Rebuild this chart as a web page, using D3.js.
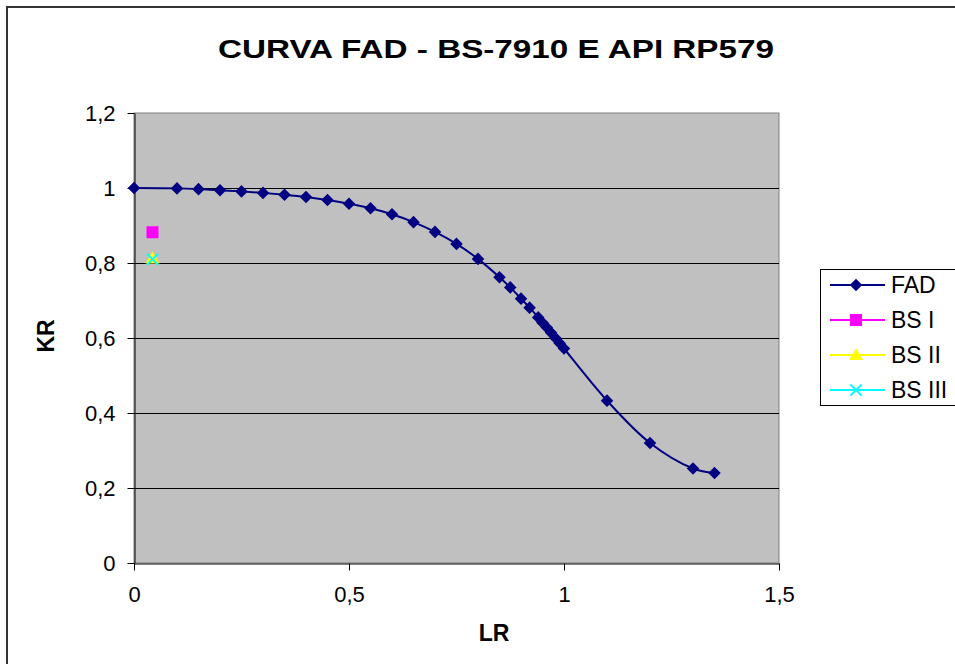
<!DOCTYPE html>
<html>
<head>
<meta charset="utf-8">
<script src="https://cdn.jsdelivr.net/npm/d3@7"></script>
<style>
  body { margin: 0; background: #fff; }
  text { font-family: "Liberation Sans", Arial, sans-serif; }
</style>
</head>
<body>
<svg width="955" height="664"></svg>
<script>
// FAD curve (LR, KR)
var fadLr = [0, 0.1, 0.15, 0.2, 0.25, 0.3, 0.35, 0.4, 0.45, 0.5, 0.55, 0.6, 0.65, 0.7, 0.75,
  0.8, 0.85, 0.875, 0.9, 0.92, 0.94, 0.95, 0.96, 0.97, 0.98, 0.99, 1.0, 1.1, 1.2, 1.3, 1.35];
var fadKr = [1, 0.999, 0.997, 0.994, 0.991, 0.987, 0.982, 0.976, 0.968, 0.958, 0.946, 0.93, 0.909, 0.883, 0.851,
  0.811, 0.762, 0.735, 0.705, 0.681, 0.655, 0.641, 0.628, 0.614, 0.6, 0.586, 0.572, 0.433, 0.32, 0.252, 0.24];

// single assessment points
var bsNames = ["BS I", "BS II", "BS III"];
var bsLr = [0.043, 0.043, 0.043];
var bsKr = [0.882, 0.812, 0.81];

var xTicks = [0, 0.5, 1, 1.5];
var yTicks = [0, 0.2, 0.4, 0.6, 0.8, 1, 1.2];
var legendNames = ["FAD", "BS I", "BS II", "BS III"];

var svg = d3.select("svg");
var fmt = function(v) { return String(v).replace(".", ","); };

// outer chart border
svg.append("rect").attr("x", 7).attr("y", 7).attr("width", 970).attr("height", 680)
  .attr("fill", "none").attr("stroke", "#333").attr("stroke-width", 2);

var x = d3.scaleLinear().domain([0, 1.5]).range([134, 779]);
var y = d3.scaleLinear().domain([0, 1.2]).range([563, 113]);

// plot area
svg.append("rect").attr("x", 134).attr("y", 113).attr("width", 645).attr("height", 450)
  .attr("fill", "#c0c0c0").attr("stroke", "#808080").attr("stroke-width", 1);

// gridlines
svg.append("g").selectAll("line").data(yTicks.filter(function(d) { return d > 0 && d < 1.2; }))
  .enter().append("line")
  .attr("x1", 134).attr("x2", 779)
  .attr("y1", function(d) { return Math.round(y(d)) + 0.5; })
  .attr("y2", function(d) { return Math.round(y(d)) + 0.5; })
  .attr("stroke", "#000").attr("stroke-width", 1);

// axes
var yAxis = svg.append("g").attr("transform", "translate(134.5,0)")
  .call(d3.axisLeft(y).tickValues(yTicks).tickFormat(fmt).tickSizeInner(7).tickSizeOuter(0).tickPadding(12));
var xAxis = svg.append("g").attr("transform", "translate(0,563.5)")
  .call(d3.axisBottom(x).tickValues(xTicks).tickFormat(fmt).tickSizeInner(7).tickSizeOuter(0).tickPadding(16));
[yAxis, xAxis].forEach(function(a) {
  a.select(".domain").attr("stroke", "#000");
  a.selectAll(".tick line").attr("stroke", "#000");
  a.selectAll("text").attr("font-size", 22).attr("fill", "#000")
    .style("font-family", "'Liberation Sans', Arial, sans-serif");
});

// FAD line
var fad = fadLr.map(function(d, i) { return [d, fadKr[i]]; });
var line = d3.line().x(function(d) { return x(d[0]); }).y(function(d) { return y(d[1]); })
  .curve(d3.curveCatmullRom.alpha(0.5));
svg.append("path").datum(fad).attr("d", line)
  .attr("fill", "none").attr("stroke", "#000080").attr("stroke-width", 2);

var diamond = d3.symbol().type(d3.symbolDiamond2).size(100);
svg.append("g").selectAll("path").data(fad).enter().append("path")
  .attr("d", diamond)
  .attr("transform", function(d) { return "translate(" + x(d[0]) + "," + y(d[1]) + ")"; })
  .attr("fill", "#000080");

// markers for BS points
function marker(g, k, cx, cy) {
  if (k === 0) {
    g.append("rect").attr("x", cx - 6).attr("y", cy - 6).attr("width", 12).attr("height", 12)
      .attr("fill", "#ff00ff");
  } else if (k === 1) {
    g.append("path").attr("d", d3.symbol().type(d3.symbolTriangle).size(85)())
      .attr("transform", "translate(" + cx + "," + (cy + 1) + ")").attr("fill", "#ffff00");
  } else {
    g.append("path").attr("d", d3.symbol().type(d3.symbolTimes).size(85)())
      .attr("transform", "translate(" + cx + "," + cy + ")")
      .attr("fill", "none").attr("stroke", "#00ffff").attr("stroke-width", 2);
  }
}
var pts = svg.append("g");
bsNames.forEach(function(n, i) { marker(pts, i, x(bsLr[i]), y(bsKr[i])); });

// title & axis labels
svg.append("text").attr("x", 496).attr("y", 58).attr("text-anchor", "middle")
  .attr("font-size", 26).attr("font-weight", "bold")
  .attr("textLength", 556).attr("lengthAdjust", "spacingAndGlyphs")
  .text("CURVA FAD - BS-7910 E API RP579");
svg.append("text").attr("x", 494).attr("y", 641).attr("text-anchor", "middle")
  .attr("font-size", 23).attr("font-weight", "bold").text("LR");
svg.append("text").attr("transform", "translate(54,336) rotate(-90)").attr("text-anchor", "middle")
  .attr("font-size", 23).attr("font-weight", "bold").text("KR");

// legend
var lg = svg.append("g");
lg.append("rect").attr("x", 820.5).attr("y", 269.5).attr("width", 150).attr("height", 136)
  .attr("fill", "#fff").attr("stroke", "#000").attr("stroke-width", 1);
var legendColors = ["#000080", "#ff00ff", "#ffff00", "#00ffff"];
legendNames.forEach(function(n, i) {
  var ly = 285 + i * 35;
  lg.append("line").attr("x1", 830).attr("x2", 885).attr("y1", ly).attr("y2", ly)
    .attr("stroke", legendColors[i]).attr("stroke-width", 2);
  if (i === 0) {
    lg.append("path").attr("d", diamond).attr("transform", "translate(856," + ly + ")").attr("fill", "#000080");
  } else {
    marker(lg, i - 1, 856, ly);
  }
  lg.append("text").attr("x", 891).attr("y", ly + 8).attr("font-size", 23).text(n);
});
</script>
</body>
</html>
